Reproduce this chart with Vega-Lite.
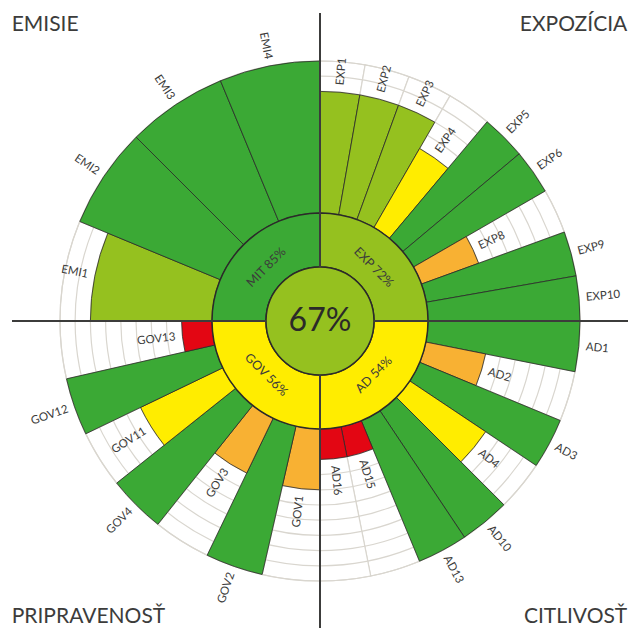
{
  "$schema": "https://vega.github.io/schema/vega-lite/v6.json",
  "width": 618,
  "height": 614,
  "padding": {"left": 11, "top": 14, "right": 0, "bottom": 0},
  "autosize": {"type": "none"},
  "background": "white",
  "config": {"view": {"stroke": null}, "text": {"font": "Lato", "color": "#3c3c3b"}},
  "datasets": {
    "items": [
      {"group": "EXP", "code": "EXP1", "value": 80},
      {"group": "EXP", "code": "EXP2", "value": 80},
      {"group": "EXP", "code": "EXP3", "value": 80},
      {"group": "EXP", "code": "EXP4", "value": 60},
      {"group": "EXP", "code": "EXP5", "value": 100},
      {"group": "EXP", "code": "EXP6", "value": 100},
      {"group": "EXP", "code": "EXP8", "value": 40},
      {"group": "EXP", "code": "EXP9", "value": 100},
      {"group": "EXP", "code": "EXP10", "value": 100},
      {"group": "AD", "code": "AD1", "value": 100},
      {"group": "AD", "code": "AD2", "value": 40},
      {"group": "AD", "code": "AD3", "value": 100},
      {"group": "AD", "code": "AD4", "value": 60},
      {"group": "AD", "code": "AD10", "value": 100},
      {"group": "AD", "code": "AD13", "value": 100},
      {"group": "AD", "code": "AD15", "value": 20},
      {"group": "AD", "code": "AD16", "value": 20},
      {"group": "GOV", "code": "GOV1", "value": 40},
      {"group": "GOV", "code": "GOV2", "value": 100},
      {"group": "GOV", "code": "GOV3", "value": 40},
      {"group": "GOV", "code": "GOV4", "value": 100},
      {"group": "GOV", "code": "GOV11", "value": 60},
      {"group": "GOV", "code": "GOV12", "value": 100},
      {"group": "GOV", "code": "GOV13", "value": 20},
      {"group": "MIT", "code": "EMI1", "value": 80},
      {"group": "MIT", "code": "EMI2", "value": 100},
      {"group": "MIT", "code": "EMI3", "value": 100},
      {"group": "MIT", "code": "EMI4", "value": 100}
    ],
    "groups": [
      {"group": "EXP", "label": "EXP 72%", "score": 72, "title": "EXPOZÍCIA"},
      {"group": "AD", "label": "AD 54%", "score": 54, "title": "CITLIVOSŤ"},
      {"group": "GOV", "label": "GOV 56%", "score": 56, "title": "PRIPRAVENOSŤ"},
      {"group": "MIT", "label": "MIT 85%", "score": 85, "title": "EMISIE"}
    ],
    "total": [{"label": "67%", "score": 67}],
    "rings": [
      {"level": 10}, {"level": 20}, {"level": 30}, {"level": 40}, {"level": 50},
      {"level": 60}, {"level": 70}, {"level": 80}, {"level": 90}, {"level": 100}
    ]
  },
  "layer": [
    {
      "data": {"name": "items"},
      "transform": [
        {"window": [{"op": "row_number", "as": "idx"}]},
        {"joinaggregate": [{"op": "count", "as": "n"}], "groupby": ["group"]},
        {"calculate": "90/datum.n", "as": "w"},
        {"stack": "w", "groupby": [], "sort": [{"field": "idx", "order": "ascending"}], "as": ["t0", "t1"]}
      ],
      "mark": {"type": "arc", "fill": "white", "stroke": "#d9d6cf", "strokeWidth": 1.2},
      "encoding": {
        "theta": {"field": "t0", "type": "quantitative", "stack": null, "scale": {"domain": [0, 360]}},
        "theta2": {"field": "t1"},
        "radius": {"datum": 100, "type": "quantitative", "scale": {"type": "linear", "domain": [0, 100], "range": [108, 260], "zero": false}},
        "radius2": {"datum": 0}
      }
    },
    {
      "data": {"name": "rings"},
      "mark": {"type": "arc", "fill": null, "filled": false, "stroke": "#d9d6cf", "strokeWidth": 1.2},
      "encoding": {
        "theta": {"datum": 0, "type": "quantitative", "stack": null, "scale": {"domain": [0, 360]}},
        "theta2": {"datum": 360},
        "radius": {"field": "level", "type": "quantitative", "stack": null, "scale": {"type": "linear", "domain": [0, 100], "range": [108, 260], "zero": false}},
        "radius2": {"field": "level"}
      }
    },
    {
      "data": {"name": "items"},
      "transform": [
        {"window": [{"op": "row_number", "as": "idx"}]},
        {"joinaggregate": [{"op": "count", "as": "n"}], "groupby": ["group"]},
        {"calculate": "90/datum.n", "as": "w"},
        {"stack": "w", "groupby": [], "sort": [{"field": "idx", "order": "ascending"}], "as": ["t0", "t1"]}
      ],
      "mark": {"type": "arc", "stroke": "#2b2a29", "strokeWidth": 0.8},
      "encoding": {
        "theta": {"field": "t0", "type": "quantitative", "stack": null, "scale": {"domain": [0, 360]}},
        "theta2": {"field": "t1"},
        "radius": {"field": "value", "type": "quantitative", "scale": {"type": "linear", "domain": [0, 100], "range": [108, 260], "zero": false}},
        "radius2": {"datum": 0},
        "color": {"field": "value", "type": "quantitative", "legend": null,
          "scale": {"type": "threshold", "domain": [21, 41, 61, 81], "range": ["#e30613", "#f8b133", "#ffed00", "#95c11f", "#3ba935"]}}
      }
    },
    {
      "data": {"name": "items"},
      "transform": [
        {"window": [{"op": "row_number", "as": "idx"}]},
        {"joinaggregate": [{"op": "count", "as": "n"}], "groupby": ["group"]},
        {"calculate": "90/datum.n", "as": "w"},
        {"stack": "w", "groupby": [], "sort": [{"field": "idx", "order": "ascending"}], "as": ["t0", "t1"]},
        {"aggregate": [{"op": "min", "field": "t0", "as": "g0"}, {"op": "max", "field": "t1", "as": "g1"}], "groupby": ["group"]},
        {"lookup": "group", "from": {"data": {"name": "groups"}, "key": "group", "fields": ["label", "score", "title"]}}
      ],
      "mark": {"type": "arc", "radius": 108, "radius2": 54, "stroke": "#2b2a29", "strokeWidth": 1.5},
      "encoding": {
        "theta": {"field": "g0", "type": "quantitative", "stack": null, "scale": {"domain": [0, 360]}},
        "theta2": {"field": "g1"},
        "color": {"field": "score", "type": "quantitative", "legend": null,
          "scale": {"type": "threshold", "domain": [21, 41, 61, 81], "range": ["#e30613", "#f8b133", "#ffed00", "#95c11f", "#3ba935"]}}
      }
    },
    {
      "data": {"name": "total"},
      "mark": {"type": "arc", "radius": 54, "stroke": "#2b2a29", "strokeWidth": 1.5},
      "encoding": {
        "theta": {"datum": 0, "type": "quantitative", "stack": null, "scale": {"domain": [0, 360]}},
        "theta2": {"datum": 360},
        "color": {"field": "score", "type": "quantitative", "legend": null,
          "scale": {"type": "threshold", "domain": [21, 41, 61, 81], "range": ["#e30613", "#f8b133", "#ffed00", "#95c11f", "#3ba935"]}}
      }
    },
    {
      "data": {"name": "items"},
      "transform": [
        {"window": [{"op": "row_number", "as": "idx"}]},
        {"joinaggregate": [{"op": "count", "as": "n"}], "groupby": ["group"]},
        {"calculate": "90/datum.n", "as": "w"},
        {"stack": "w", "groupby": [], "sort": [{"field": "idx", "order": "ascending"}], "as": ["t0", "t1"]},
        {"aggregate": [{"op": "min", "field": "t0", "as": "g0"}], "groupby": ["group"]}
      ],
      "mark": {"type": "arc", "radius": 308, "radius2": 54, "fill": null, "filled": false, "stroke": "#3c3c3b", "strokeWidth": 2},
      "encoding": {
        "theta": {"field": "g0", "type": "quantitative", "stack": null, "scale": {"domain": [0, 360]}},
        "theta2": {"field": "g0"}
      }
    },
    {
      "data": {"name": "items"},
      "transform": [
        {"window": [{"op": "row_number", "as": "idx"}]},
        {"joinaggregate": [{"op": "count", "as": "n"}], "groupby": ["group"]},
        {"calculate": "90/datum.n", "as": "w"},
        {"stack": "w", "groupby": [], "sort": [{"field": "idx", "order": "ascending"}], "as": ["t0", "t1"]},
        {"aggregate": [{"op": "min", "field": "t0", "as": "g0"}, {"op": "max", "field": "t1", "as": "g1"}], "groupby": ["group"]},
        {"lookup": "group", "from": {"data": {"name": "groups"}, "key": "group", "fields": ["label", "score", "title"]}},
        {"calculate": "(datum.g0 + datum.g1) / 2", "as": "gmid"},
        {"calculate": "datum.gmid % 180 < 90 ? datum.gmid % 180 : datum.gmid % 180 - 180", "as": "gang"}
      ],
      "mark": {"type": "text", "radius": 76, "align": "center", "baseline": "middle", "fontSize": 12.5},
      "encoding": {
        "theta": {"field": "gmid", "type": "quantitative", "stack": null, "scale": {"domain": [0, 360]}},
        "text": {"field": "label"},
        "angle": {"field": "gang", "type": "quantitative", "scale": null}
      }
    },
    {
      "data": {"name": "total"},
      "mark": {"type": "text", "radius": 0, "align": "center", "baseline": "middle", "fontSize": 32, "color": "#2b2a29"},
      "encoding": {
        "theta": {"datum": 0, "type": "quantitative", "stack": null, "scale": {"domain": [0, 360]}},
        "text": {"field": "label"}
      }
    },
    {
      "data": {"name": "items"},
      "transform": [
        {"window": [{"op": "row_number", "as": "idx"}]},
        {"joinaggregate": [{"op": "count", "as": "n"}], "groupby": ["group"]},
        {"calculate": "90/datum.n", "as": "w"},
        {"stack": "w", "groupby": [], "sort": [{"field": "idx", "order": "ascending"}], "as": ["t0", "t1"]},
        {"calculate": "(datum.t0 + datum.t1) / 2", "as": "mid"},
        {"filter": "datum.mid < 180"},
        {"calculate": "datum.mid - 90", "as": "ang"}
      ],
      "mark": {"type": "text", "radiusOffset": 7, "align": "left", "baseline": "middle", "fontSize": 11.5},
      "encoding": {
        "theta": {"field": "mid", "type": "quantitative", "stack": null, "scale": {"domain": [0, 360]}},
        "radius": {"field": "value", "type": "quantitative", "scale": {"type": "linear", "domain": [0, 100], "range": [108, 260], "zero": false}},
        "text": {"field": "code"},
        "angle": {"field": "ang", "type": "quantitative", "scale": null}
      }
    },
    {
      "data": {"name": "items"},
      "transform": [
        {"window": [{"op": "row_number", "as": "idx"}]},
        {"joinaggregate": [{"op": "count", "as": "n"}], "groupby": ["group"]},
        {"calculate": "90/datum.n", "as": "w"},
        {"stack": "w", "groupby": [], "sort": [{"field": "idx", "order": "ascending"}], "as": ["t0", "t1"]},
        {"calculate": "(datum.t0 + datum.t1) / 2", "as": "mid"},
        {"filter": "datum.mid >= 180"},
        {"calculate": "datum.mid - 270", "as": "ang"}
      ],
      "mark": {"type": "text", "radiusOffset": 7, "align": "right", "baseline": "middle", "fontSize": 11.5},
      "encoding": {
        "theta": {"field": "mid", "type": "quantitative", "stack": null, "scale": {"domain": [0, 360]}},
        "radius": {"field": "value", "type": "quantitative", "scale": {"type": "linear", "domain": [0, 100], "range": [108, 260], "zero": false}},
        "text": {"field": "code"},
        "angle": {"field": "ang", "type": "quantitative", "scale": null}
      }
    },
    {
      "data": {"name": "items"},
      "transform": [
        {"window": [{"op": "row_number", "as": "idx"}]},
        {"joinaggregate": [{"op": "count", "as": "n"}], "groupby": ["group"]},
        {"calculate": "90/datum.n", "as": "w"},
        {"stack": "w", "groupby": [], "sort": [{"field": "idx", "order": "ascending"}], "as": ["t0", "t1"]},
        {"aggregate": [{"op": "min", "field": "t0", "as": "g0"}, {"op": "max", "field": "t1", "as": "g1"}], "groupby": ["group"]},
        {"lookup": "group", "from": {"data": {"name": "groups"}, "key": "group", "fields": ["title"]}},
        {"calculate": "(datum.g0 + datum.g1) / 2", "as": "gmid"},
        {"filter": "datum.gmid < 180"}
      ],
      "mark": {"type": "text", "radius": 419, "align": "right", "baseline": "middle", "dx": 11, "fontSize": 21},
      "encoding": {
        "theta": {"field": "gmid", "type": "quantitative", "stack": null, "scale": {"domain": [0, 360]}},
        "text": {"field": "title"}
      }
    },
    {
      "data": {"name": "items"},
      "transform": [
        {"window": [{"op": "row_number", "as": "idx"}]},
        {"joinaggregate": [{"op": "count", "as": "n"}], "groupby": ["group"]},
        {"calculate": "90/datum.n", "as": "w"},
        {"stack": "w", "groupby": [], "sort": [{"field": "idx", "order": "ascending"}], "as": ["t0", "t1"]},
        {"aggregate": [{"op": "min", "field": "t0", "as": "g0"}, {"op": "max", "field": "t1", "as": "g1"}], "groupby": ["group"]},
        {"lookup": "group", "from": {"data": {"name": "groups"}, "key": "group", "fields": ["title"]}},
        {"calculate": "(datum.g0 + datum.g1) / 2", "as": "gmid"},
        {"filter": "datum.gmid >= 180"}
      ],
      "mark": {"type": "text", "radius": 419, "align": "left", "baseline": "middle", "dx": -12, "fontSize": 21},
      "encoding": {
        "theta": {"field": "gmid", "type": "quantitative", "stack": null, "scale": {"domain": [0, 360]}},
        "text": {"field": "title"}
      }
    }
  ]
}
